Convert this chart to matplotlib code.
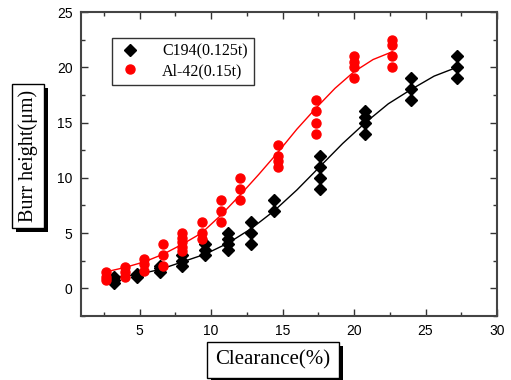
import matplotlib
matplotlib.use("Agg")
import matplotlib.pyplot as plt
import matplotlib.patheffects as pe

# C194 (0.125t) measurements
c194_x = [3.2, 3.2, 3.2, 4.8, 4.8, 4.8, 6.4, 6.4, 6.4, 8.0, 8.0, 8.0,
          9.6, 9.6, 9.6, 11.2, 11.2, 11.2, 11.2, 12.8, 12.8, 12.8,
          14.4, 14.4, 17.6, 17.6, 17.6, 17.6, 20.8, 20.8, 20.8, 20.8,
          24.0, 24.0, 24.0, 27.2, 27.2, 27.2]
c194_y = [0.5, 0.8, 1.0, 1.0, 1.2, 1.3, 1.5, 1.8, 2.0, 2.0, 2.5, 3.0,
          3.0, 3.5, 4.0, 3.5, 4.0, 4.5, 5.0, 4.0, 5.0, 6.0,
          7.0, 8.0, 9.0, 10.0, 11.0, 12.0, 14.0, 15.0, 15.5, 16.0,
          17.0, 18.0, 19.0, 19.0, 20.0, 21.0]

# Al-42 (0.15t) measurements
al42_x = [2.67, 2.67, 2.67, 4.0, 4.0, 4.0, 5.33, 5.33, 5.33, 6.67, 6.67, 6.67,
          8.0, 8.0, 8.0, 8.0, 8.0, 9.33, 9.33, 9.33, 10.67, 10.67, 10.67,
          12.0, 12.0, 12.0, 14.67, 14.67, 14.67, 14.67, 17.33, 17.33, 17.33, 17.33,
          20.0, 20.0, 20.0, 20.0, 22.67, 22.67, 22.67, 22.67]
al42_y = [0.8, 1.0, 1.5, 1.0, 1.5, 1.9, 1.6, 2.2, 2.7, 2.0, 3.0, 4.0,
          3.4, 3.7, 4.2, 4.6, 5.0, 4.5, 5.0, 6.0, 6.0, 7.0, 8.0,
          8.0, 9.0, 10.0, 11.0, 11.5, 12.0, 13.0, 14.0, 15.0, 16.0, 17.0,
          19.0, 20.0, 20.5, 21.0, 20.0, 21.0, 22.0, 22.5]

# fitted curves
c194_fit_x = [3.2, 4.8, 6.4, 8.0, 9.6, 11.2, 12.8, 14.4, 16.0, 17.6,
              19.2, 20.8, 22.4, 24.0, 25.6, 27.2]
c194_fit_y = [1.0, 1.25, 1.7, 2.4, 3.1, 4.1, 5.4, 7.0, 8.9, 11.0,
              13.1, 15.0, 16.7, 18.0, 19.2, 20.0]
al42_fit_x = [2.67, 4.0, 5.33, 6.67, 8.0, 9.33, 10.67, 12.0, 13.33, 14.67,
              16.0, 17.33, 18.67, 20.0, 21.33, 22.67]
al42_fit_y = [1.5, 1.9, 2.4, 3.1, 4.0, 5.0, 6.6, 8.4, 10.3, 12.3,
              14.4, 16.3, 18.1, 19.6, 20.7, 21.4]

serif = ["Liberation Serif", "DejaVu Serif"]

fig = plt.figure(figsize=(5.11, 3.8), dpi=100)
ax = fig.add_axes([0.1585, 0.1684, 0.8141, 0.80])

ax.plot(c194_fit_x, c194_fit_y, color="black", lw=1.0, zorder=2)
ax.plot(al42_fit_x, al42_fit_y, color="red", lw=1.0, zorder=2)
ax.plot(c194_x, c194_y, "D", color="black", ms=6, ls="none",
        label="C194(0.125t)", zorder=3)
ax.plot(al42_x, al42_y, "o", color="red", ms=6.5, ls="none",
        label="Al-42(0.15t)", zorder=3)

ax.set_xlim(0.9, 30)
ax.set_ylim(-2, 25)
ax.set_xticks([5, 10, 15, 20, 25, 30])
ax.set_xticks([2.5, 7.5, 12.5, 17.5, 22.5, 27.5], minor=True)
ax.set_yticks([0, 5, 10, 15, 20, 25])
ax.set_yticks([-2.5, 2.5, 7.5, 12.5, 17.5, 22.5], minor=True)
ax.tick_params(which="both", direction="in", top=True, right=True,
               labelsize=10, width=1.0, color="#333333")
ax.tick_params(which="major", length=5, pad=6)
ax.tick_params(which="minor", length=3)
for lab in ax.get_xticklabels() + ax.get_yticklabels():
    lab.set_family(["Liberation Sans", "DejaVu Sans"])
for s in ax.spines.values():
    s.set_linewidth(1.5)
    s.set_color("#444444")

leg = ax.legend(loc="upper left", bbox_to_anchor=(0.0745, 0.914),
                prop={"family": serif, "size": 11.5}, frameon=True,
                fancybox=False, edgecolor="black", borderpad=0.35,
                handletextpad=1.2, labelspacing=0.2, handlelength=1.6,
                borderaxespad=0)
leg.get_frame().set_linewidth(1.0)

shadow = [pe.withSimplePatchShadow(offset=(3, -3), shadow_rgbFace="black",
                                   alpha=1.0)]
t1 = fig.text(28 / 511, 1 - 156 / 380, "Burr height(\u03bcm)", rotation=90,
              ha="center", va="center", family=serif, fontsize=14.5,
              bbox=dict(boxstyle="square,pad=0.3", fc="white", ec="black", lw=1.0))
t1.get_bbox_patch().set_path_effects(shadow)
t2 = fig.text(273 / 511, 1 - 360 / 380, "Clearance(%)", ha="center",
              va="center", family=serif, fontsize=15,
              bbox=dict(boxstyle="square,pad=0.4", fc="white", ec="black", lw=1.0))
t2.get_bbox_patch().set_path_effects(shadow)

fig.savefig("out.png", dpi=100)
